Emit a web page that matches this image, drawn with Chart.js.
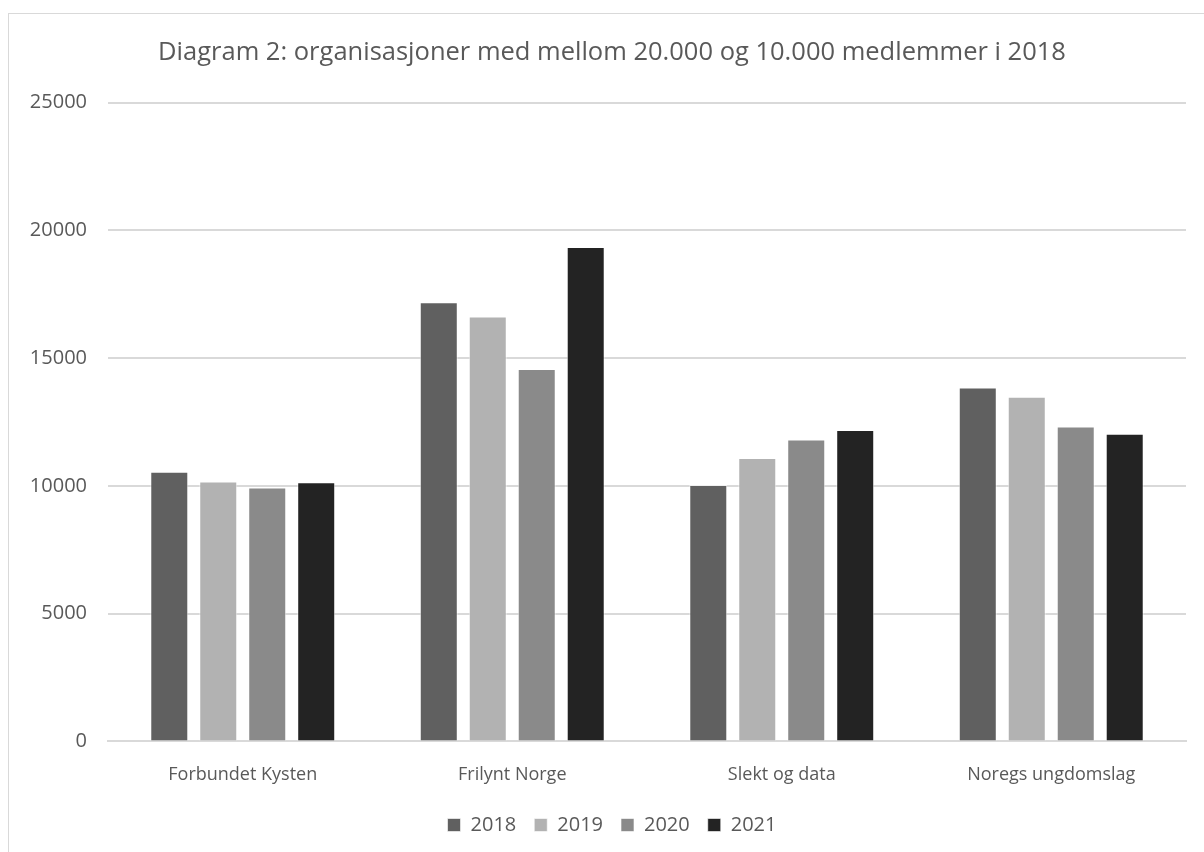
<!DOCTYPE html>
<html>
<head>
<meta charset="utf-8">
<script src="https://cdn.jsdelivr.net/npm/chart.js@4.4.1/dist/chart.umd.min.js"></script>
<style>
  html, body { margin: 0; padding: 0; background: #fff; overflow: hidden; }
  #wrap { position: relative; width: 1204px; height: 852px; overflow: hidden; }
  #frame { position: absolute; left: 8px; top: 13px; width: 1220px; height: 870px; border: 1px solid #d9d9d9; pointer-events: none; }
</style>
</head>
<body>
<div id="wrap">
  <canvas id="chart" width="1204" height="852"></canvas>
  <div id="frame"></div>
</div>
<script>
// organisations and members per year
const categories = ['Forbundet Kysten', 'Frilynt Norge', 'Slekt og data', 'Noregs ungdomslag'];
const years = ['2018', '2019', '2020', '2021'];
const values2018 = [10550, 17190, 10030, 13850];
const values2019 = [10170, 16630, 11090, 13490];
const values2020 = [9940, 14570, 11820, 12320];
const values2021 = [10140, 19350, 12190, 12040];
const yTicks = [0, 5000, 10000, 15000, 20000, 25000];

const colours = ['#606060', '#b2b2b2', '#8a8a8a', '#232323'];
const series = [values2018, values2019, values2020, values2021];

Chart.defaults.font.family = "'Open Sans', sans-serif";
Chart.defaults.color = '#595959';

// title and legend are centred over the plot area, not the whole canvas
const centreOverPlot = {
    id: 'centreOverPlot',
    afterLayout: function(chart){
        const shift = 19;
        [chart.titleBlock, chart.legend].forEach(function(box){
            if (box) { box.left += shift; box.right += shift; }
        });
    }
};

const ctx = document.getElementById('chart');
const chart = new Chart(ctx, {
    type: 'bar',
    data: {
        labels: categories,
        datasets: series.map(function(vals, i){
            return {
                label: years[i],
                data: vals,
                backgroundColor: colours[i],
                borderColor: 'rgba(255,255,255,0.6)',
                borderWidth: 1,
                categoryPercentage: 0.727,
                barPercentage: 0.776
            };
        })
    },
    plugins: [centreOverPlot],
    options: {
        responsive: false,
        animation: false,
        layout: { padding: { left: 0, right: 18, top: 0, bottom: 7 } },
        plugins: {
            title: {
                display: true,
                text: 'Diagram 2: organisasjoner med mellom 20.000 og 10.000 medlemmer i 2018',
                font: { size: 25.5, weight: 'normal' },
                color: '#595959',
                padding: { top: 37, bottom: 35 }
            },
            legend: {
                position: 'bottom',
                labels: { boxWidth: 13, boxHeight: 13, padding: 18, font: { size: 20 } }
            },
            tooltip: { enabled: false }
        },
        scales: {
            x: {
                grid: { display: false },
                border: { color: '#d9d9d9', width: 2 },
                ticks: { font: { size: 18 }, padding: 15 },
                afterFit: function(scale){ scale.height -= 4; }
            },
            y: {
                min: 0,
                max: 25000,
                afterFit: function(scale){ scale.width = 108; },
                afterBuildTicks: function(scale){ scale.ticks = yTicks.map(function(v){ return { value: v }; }); },
                grid: { color: '#d9d9d9', lineWidth: 2, drawTicks: false },
                border: { display: false },
                ticks: {
                    font: { size: 20 },
                    padding: 21,
                    callback: function(v){ return String(v); }
                }
            }
        }
    }
});
</script>
</body>
</html>
